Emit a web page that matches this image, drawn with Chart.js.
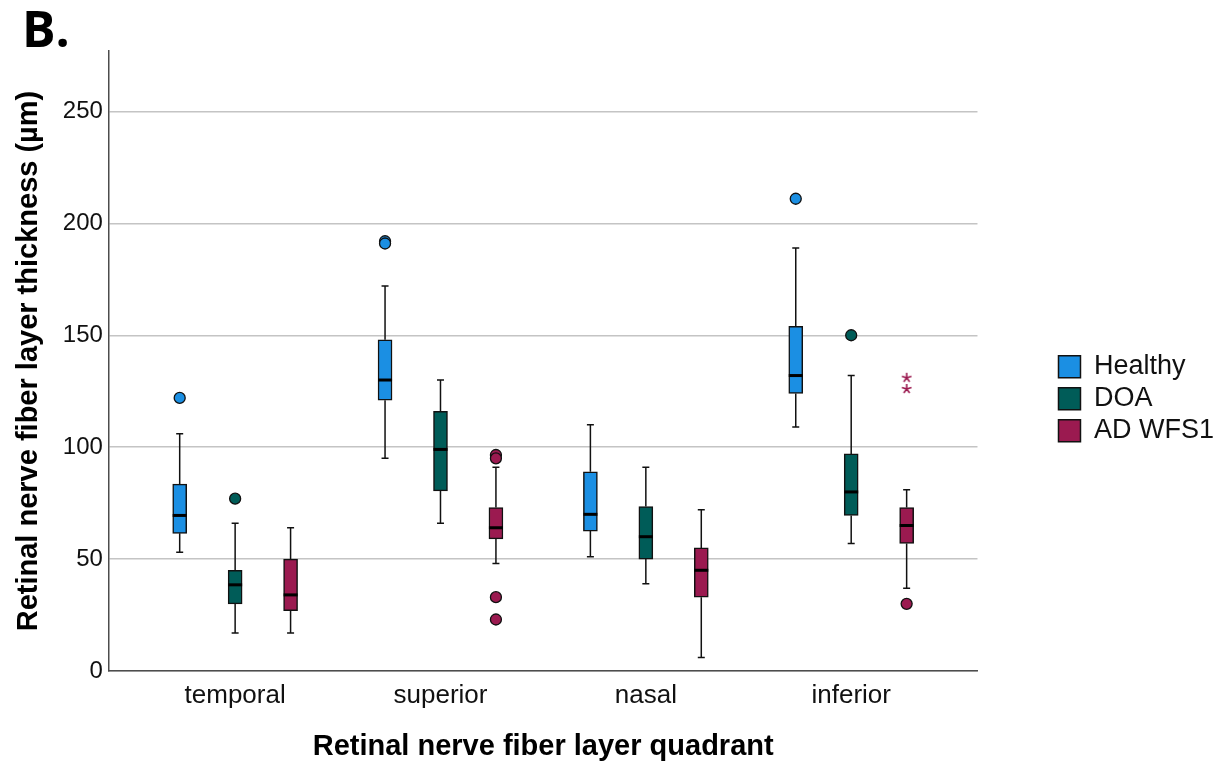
<!DOCTYPE html>
<html>
<head>
<meta charset="utf-8">
<script src="https://cdn.jsdelivr.net/npm/chart.js@4.4.0/dist/chart.umd.min.js"></script>
<style>
html, body { margin:0; padding:0; background:#fff; }
#wrap { width:1224px; height:762px; }
</style>
</head>
<body>
<div id="wrap"><canvas id="graph1"></canvas></div>
<script>
// quadrants on the x axis, groups in the legend
const CATEGORIES  = [ "temporal", "superior", "nasal", "inferior" ];
const GROUPS      = [ "Healthy", "DOA", "AD WFS1" ];
const Y_TICKS     = [ 0, 50, 100, 150, 200, 250 ];

// box stats per quadrant (µm)
const HEALTHY_MIN = [ 53,  95,  51, 109 ];
const HEALTHY_Q1  = [ 61.5, 121, 62.5, 124 ];
const HEALTHY_MED = [ 69.5, 130, 70,  132 ];
const HEALTHY_Q3  = [ 83.5, 148, 89,  154 ];
const HEALTHY_MAX = [ 106, 172, 110, 189 ];
const HEALTHY_OUT = [ [122], [192, 191], [], [211] ];
const HEALTHY_EXT = [ [], [], [], [] ];

const DOA_MIN     = [ 17,  66,  39,  57 ];
const DOA_Q1      = [ 30,  80.5, 50, 69.5 ];
const DOA_MED     = [ 38.5, 99, 60,  80 ];
const DOA_Q3      = [ 45,  116, 73.5, 97 ];
const DOA_MAX     = [ 66,  130, 91,  132 ];
const DOA_OUT     = [ [77], [], [], [150] ];
const DOA_EXT     = [ [], [], [], [] ];

const WFS1_MIN    = [ 17,  48,  6,   37 ];
const WFS1_Q1     = [ 27,  59,  33,  57 ];
const WFS1_MED    = [ 34,  64,  45,  65 ];
const WFS1_Q3     = [ 50,  73,  55,  73 ];
const WFS1_MAX    = [ 64,  91,  72,  81 ];
const WFS1_OUT    = [ [], [96.5, 95, 33, 23], [], [30] ];
const WFS1_EXT    = [ [], [], [], [131, 126] ];

const COLORS      = [ "#1b8fe3", "#005c58", "#9b1a50" ];
const OFFSETS     = [ -0.27, 0, 0.27 ];   // box position inside a quadrant

const STATS = [
    { min:HEALTHY_MIN, q1:HEALTHY_Q1, med:HEALTHY_MED, q3:HEALTHY_Q3, max:HEALTHY_MAX, out:HEALTHY_OUT, ext:HEALTHY_EXT },
    { min:DOA_MIN,     q1:DOA_Q1,     med:DOA_MED,     q3:DOA_Q3,     max:DOA_MAX,     out:DOA_OUT,     ext:DOA_EXT },
    { min:WFS1_MIN,    q1:WFS1_Q1,    med:WFS1_MED,    q3:WFS1_Q3,    max:WFS1_MAX,    out:WFS1_OUT,    ext:WFS1_EXT },
];

const FONT = '"Liberation Sans", Arial, sans-serif';

// whiskers behind the boxes, medians on top
const boxWhiskers = {
    id: "boxWhiskers",
    beforeDatasetsDraw(chart) {
        const { ctx, scales: { x, y } } = chart;
        ctx.save();
        ctx.strokeStyle = "#111";
        ctx.lineWidth   = 1.5;
        STATS.forEach((s, g) => {
            CATEGORIES.forEach((c, i) => {
                const px = x.getPixelForValue(i + OFFSETS[g]);
                ctx.beginPath();
                ctx.moveTo(px, y.getPixelForValue(s.min[i]));
                ctx.lineTo(px, y.getPixelForValue(s.q1[i]));
                ctx.moveTo(px, y.getPixelForValue(s.q3[i]));
                ctx.lineTo(px, y.getPixelForValue(s.max[i]));
                for (let v of [ s.min[i], s.max[i] ]) {
                    ctx.moveTo(px - 3.5, y.getPixelForValue(v));
                    ctx.lineTo(px + 3.5, y.getPixelForValue(v));
                }
                ctx.stroke();
            });
        });
        ctx.restore();
    },
    afterDatasetsDraw(chart) {
        const { ctx, scales: { x, y } } = chart;
        ctx.save();
        ctx.strokeStyle = "#000";
        ctx.lineWidth   = 3;
        STATS.forEach((s, g) => {
            CATEGORIES.forEach((c, i) => {
                const px = x.getPixelForValue(i + OFFSETS[g]);
                const py = y.getPixelForValue(s.med[i]);
                ctx.beginPath();
                ctx.moveTo(px - 7, py);
                ctx.lineTo(px + 7, py);
                ctx.stroke();
            });
        });
        ctx.restore();
    }
};

// SPSS style asterisk for extreme values
function asterisk(color) {
    const c = document.createElement("canvas");
    c.width = 12; c.height = 12;
    const g = c.getContext("2d");
    g.strokeStyle = color;
    g.lineWidth   = 1.6;
    g.beginPath();
    for (let k = 0; k < 5; k++) {
        const a = -Math.PI / 2 + k * 2 * Math.PI / 5;
        g.moveTo(6, 6);
        g.lineTo(6 + 5 * Math.cos(a), 6 + 5 * Math.sin(a));
    }
    g.stroke();
    return c;
}

function points(list, g) {
    const pts = [];
    list.forEach((vals, i) => { for (let v of vals) pts.push({ x: i + OFFSETS[g], y: v }); });
    return pts;
}

window.addEventListener("load", function () {

    const datasets = [];

    STATS.forEach((s, g) => {
        datasets.push({
            type: "bar",
            label: GROUPS[g],
            data: CATEGORIES.map((c, i) => ({ x: i + OFFSETS[g], y: [ s.q1[i], s.q3[i] ] })),
            backgroundColor: COLORS[g],
            borderColor: "#111",
            borderWidth: 1.5,
            borderSkipped: false,
            barThickness: 14,
            grouped: false,
        });
    });

    STATS.forEach((s, g) => {
        datasets.push({
            type: "scatter",
            label: GROUPS[g] + " outliers",
            data: points(s.out, g),
            pointRadius: 5.5,
            pointBackgroundColor: COLORS[g],
            pointBorderColor: "#111",
            pointBorderWidth: 1.3,
        });
        datasets.push({
            type: "scatter",
            label: GROUPS[g] + " extremes",
            data: points(s.ext, g),
            pointStyle: asterisk(COLORS[g]),
            pointRadius: 6,
        });
    });

    const ctx = document.getElementById("graph1").getContext("2d");

    new Chart(ctx, {
        data: { datasets: datasets },
        plugins: [ boxWhiskers ],
        options: {
            responsive: true,
            maintainAspectRatio: false,
            animation: false,
            layout: { padding: { left: 22, right: 0, top: 0, bottom: 0 } },
            plugins: {
                tooltip: { enabled: false },
                title: {
                    display: true,
                    text: "B.",
                    align: "start",
                    color: "#000",
                    font: { family: '"Open Sans", sans-serif', size: 50, weight: "bold", lineHeight: 0.8 },
                    padding: { top: 13, bottom: -2 },
                },
                legend: {
                    position: "right",
                    align: "center",
                    title: { display: true, text: "", padding: { top: 21, bottom: 0 } },
                    labels: {
                        filter: (item) => item.datasetIndex < GROUPS.length,
                        boxWidth: 22,
                        boxHeight: 22,
                        padding: 5,
                        color: "#111",
                        font: { family: FONT, size: 27, lineHeight: 1 },
                    },
                },
            },
            scales: {
                x: {
                    type: "linear",
                    offset: false,
                    min: -0.615,
                    max: 3.615,
                    afterBuildTicks: (scale) => { scale.ticks = CATEGORIES.map((c, i) => ({ value: i })); },
                    ticks: {
                        callback: (v) => CATEGORIES[v],
                        color: "#111",
                        padding: 9,
                        autoSkip: false,
                        maxRotation: 0,
                        font: { family: FONT, size: 26 },
                    },
                    grid: { display: false, drawTicks: false },
                    border: { display: true, color: "#4d4d4d", width: 1.5 },
                    title: {
                        display: true,
                        text: "Retinal nerve fiber layer quadrant",
                        color: "#000",
                        font: { family: FONT, size: 29, weight: "bold" },
                        padding: { top: 9, bottom: -2 },
                    },
                },
                y: {
                    min: 0,
                    max: 277,
                    afterBuildTicks: (scale) => { scale.ticks = Y_TICKS.map((v) => ({ value: v })); },
                    ticks: {
                        color: "#111",
                        padding: 6,
                        font: { family: FONT, size: 24 },
                    },
                    grid: { color: "#c4c4c4", lineWidth: 1.5, drawTicks: false },
                    border: { display: true, color: "#4d4d4d", width: 1.5 },
                    title: {
                        display: true,
                        text: "Retinal nerve fiber layer thickness (µm)",
                        color: "#000",
                        font: { family: FONT, size: 29, weight: "bold" },
                        padding: { top: -10, bottom: 10 },
                    },
                },
                // empty right axis, only keeps a gap between plot and legend
                gap: {
                    type: "linear",
                    position: "right",
                    display: true,
                    grid: { display: false, drawTicks: false },
                    border: { display: false },
                    ticks: { display: false },
                    afterFit: (scale) => { scale.width = 76; },
                },
            },
        },
    });
});
</script>
</body>
</html>
